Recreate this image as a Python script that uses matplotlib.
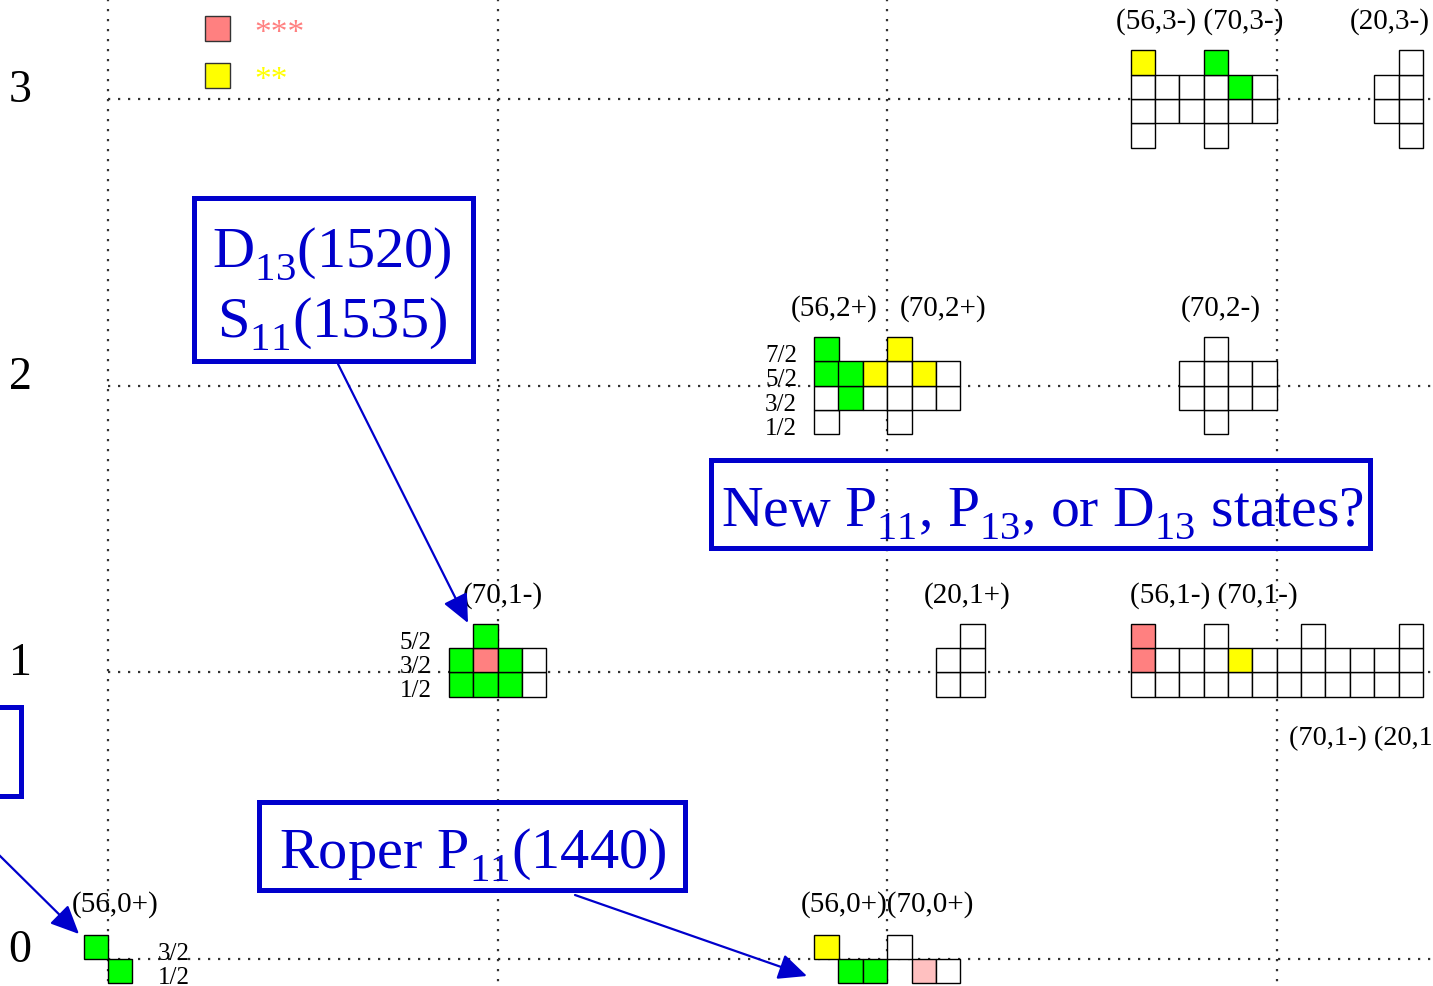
import matplotlib
matplotlib.use('Agg')
import matplotlib.pyplot as plt
from matplotlib.patches import Rectangle

plt.rcParams['font.family'] = ['Liberation Serif', 'DejaVu Serif']
plt.rcParams['mathtext.fontset'] = 'custom'
plt.rcParams['mathtext.rm'] = 'Liberation Serif'
plt.rcParams['mathtext.it'] = 'Liberation Serif:italic'
plt.rcParams['mathtext.bf'] = 'Liberation Serif:bold'
try:
    import matplotlib._mathtext as _mt
    _mt.FontConstantsBase.sub1 = 0.5
except Exception:
    pass

# ---------------- data ----------------
level_labels = ['0', '1', '2', '3']

# colour codes of the cells
cell_colors = {'w': 'white', 'g': '#00FF00', 'r': '#FF8080',
               'y': '#FFFF00', 'p': '#FFC0C0'}

# multiplet blocks: oscillator level N, first column, then each column as
# (lowest J, colour codes from lowest J upwards)
block_levels = [0, 0, 1, 1, 1, 2, 2, 3, 3]
block_start = [-1, 29, 14, 34, 42, 29, 44, 42, 52]
block_columns = [
    [(1.5, 'g'), (0.5, 'g')],
    [(1.5, 'y'), (0.5, 'g'), (0.5, 'g'), (1.5, 'w'), (0.5, 'p'), (0.5, 'w')],
    [(0.5, 'gg'), (0.5, 'grg'), (0.5, 'gg'), (0.5, 'ww')],
    [(0.5, 'ww'), (0.5, 'www')],
    [(0.5, 'wrr'), (0.5, 'ww'), (0.5, 'ww'), (0.5, 'www'), (0.5, 'wy'),
     (0.5, 'ww'), (0.5, 'ww'), (0.5, 'www'), (0.5, 'ww'), (0.5, 'ww'),
     (0.5, 'ww'), (0.5, 'www')],
    [(0.5, 'wwgg'), (1.5, 'gg'), (1.5, 'wy'), (0.5, 'wwwy'), (1.5, 'wy'),
     (1.5, 'ww')],
    [(1.5, 'ww'), (0.5, 'wwww'), (1.5, 'ww'), (1.5, 'ww')],
    [(1.5, 'wwwy'), (2.5, 'ww'), (2.5, 'ww'), (1.5, 'wwwg'), (2.5, 'wg'),
     (2.5, 'ww')],
    [(2.5, 'ww'), (1.5, 'wwww')],
]

# multiplet names
mult_names = ['(56,0+)', '(56,0+)(70,0+)', '(70,1-)', '(20,1+)',
              '(56,1-) (70,1-)', '(56,2+)', '(70,2+)', '(70,2-)',
              '(56,3-) (70,3-)', '(20,3-)']
mult_levels = [0, 0, 1, 1, 1, 2, 2, 2, 3, 3]
mult_cols = [0.29, 32.0, 16.2, 35.3, 45.4, 29.8, 34.3, 45.7, 44.85, 52.65]

# spin labels: level, anchor column, alignment, J values
jlab_levels = [0, 1, 2]
jlab_cols = [2.05, 13.3, 28.3]
jlab_ha = ['left', 'right', 'right']
jlab_values = [['3/2', '1/2'], ['5/2', '3/2', '1/2'],
               ['7/2', '5/2', '3/2', '1/2']]

legend_codes = ['r', 'y']
legend_text = ['***', '**']

# ---------------- layout ----------------
W, H = 1433, 987
X0 = 108.0          # first vertical grid line
C = 24.35           # cell size
Y0 = 960.0          # level N = 0
DY = 286.7          # level spacing
BLUE = '#0000CC'


def lvl_y(n):
    return Y0 - n * DY


def jval(s):
    a, b = s.split('/')
    return float(a) / float(b)


fig = plt.figure(figsize=(W / 100, H / 100), dpi=100)
ax = fig.add_axes([0, 0, 1, 1])
ax.set_xlim(0, W)
ax.set_ylim(H, 0)
ax.axis('off')

dot = (0, (1, 3.5))
# grid
for n in range(4):
    ax.plot([X0, W], [lvl_y(n), lvl_y(n)], color='#333333', lw=1.6,
            linestyle=dot, zorder=1)
    ax.text(20, lvl_y(n) + 2, level_labels[n], fontsize=33, ha='center',
            va='baseline', color='black')
for k in range(4):
    x = X0 + 16 * k * C
    ax.plot([x, x], [0, H], color='#333333', lw=1.6, linestyle=dot, zorder=1)

# cells
for n, c0, cols in zip(block_levels, block_start, block_columns):
    split = max(n, 1)
    for i, (jlow, codes) in enumerate(cols):
        for k, code in enumerate(codes):
            j = jlow + k
            top = lvl_y(n) - (j - split + 0.5) * C
            ax.add_patch(Rectangle((X0 + (c0 + i) * C, top), C, C,
                                   facecolor=cell_colors[code],
                                   edgecolor='black', lw=1.0, zorder=3))

# spin labels
for n, col, ha, vals in zip(jlab_levels, jlab_cols, jlab_ha, jlab_values):
    split = max(n, 1)
    for v in vals:
        yc = lvl_y(n) - (jval(v) - split) * C
        ax.text(X0 + col * C, yc + 12, v, fontsize=18, ha=ha, va='baseline',
                zorder=4)

# multiplet names
for name, n, col in zip(mult_names, mult_levels, mult_cols):
    off = 48 if n == 0 else 71
    ax.text(X0 + col * C, lvl_y(n) - off, name, fontsize=21, ha='center',
            va='baseline', zorder=4)
ax.text(1289, lvl_y(1) + 72, '(70,1-) (20,1', fontsize=20.3, ha='left',
        va='baseline', zorder=4)

# legend
for i, (code, txt) in enumerate(zip(legend_codes, legend_text)):
    ax.add_patch(Rectangle((205, 17 + 47 * i), 25, 25,
                           facecolor=cell_colors[code], edgecolor='#333333',
                           lw=1.0, zorder=3))
    ax.text(254, 42 + 47 * i, txt, fontsize=24, color=cell_colors[code],
            ha='left', va='baseline')

# blue annotation boxes
boxes = [(194, 199, 279, 163), (711, 461, 659, 88), (259, 803, 426, 88),
         (-100, 708, 121, 89)]
for bx, by, bw, bh in boxes:
    ax.add_patch(Rectangle((bx, by), bw, bh, fill=False, edgecolor=BLUE,
                           lw=3.6, zorder=5, clip_on=False))

ax.text(332, 267, r'D$_{13}$(1520)', fontsize=42, color=BLUE, ha='center',
        va='baseline', zorder=6)
ax.text(332, 337, r'S$_{11}$(1535)', fontsize=42, color=BLUE, ha='center',
        va='baseline', zorder=6)
ax.text(1042, 526, r'New P$_{11}$, P$_{13}$, or D$_{13}$ states?',
        fontsize=41.5, color=BLUE, ha='center', va='baseline', zorder=6)
ax.text(473, 868, r'Roper P$_{11}$(1440)', fontsize=42, color=BLUE,
        ha='center', va='baseline', zorder=6)

arrows = [((338, 365), (468, 624)), ((575, 896), (807, 977)),
          ((-5, 852), (79, 935))]
for (sx, sy), (tx, ty) in arrows:
    ax.annotate('', xy=(tx, ty), xytext=(sx, sy),
                arrowprops=dict(arrowstyle='-|>,head_length=0.7,head_width=0.32',
                                color=BLUE, lw=1.6, mutation_scale=25,
                                shrinkA=0, shrinkB=0),
                zorder=6, annotation_clip=False)

fig.savefig('out.png', dpi=100)
